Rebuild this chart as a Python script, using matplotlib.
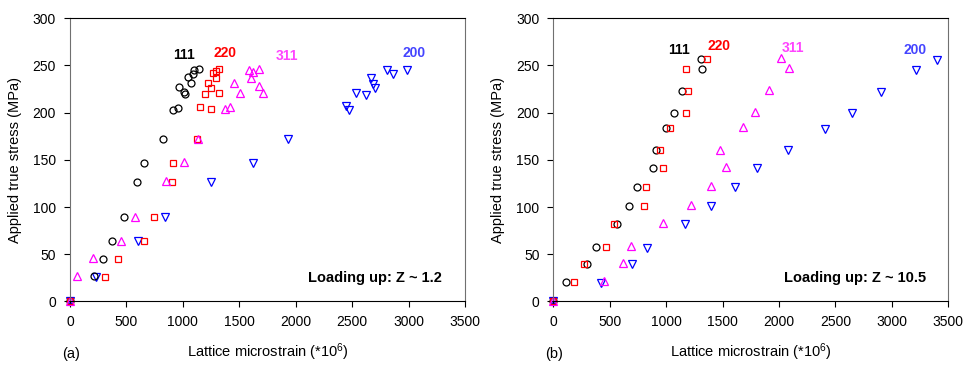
import matplotlib
matplotlib.use("Agg")
import matplotlib.pyplot as plt

plt.rcParams['font.family'] = ['Liberation Sans', 'DejaVu Sans']
plt.rcParams['mathtext.default'] = 'regular'

# (a) Z ~ 1.2 : lattice microstrain, applied stress
a111_x = [0, 216, 292, 369, 481, 594, 659, 821, 915, 954, 968, 1007, 1019, 1048, 1069, 1092, 1101, 1146]
a111_y = [0, 26.5, 45.5, 64, 89, 127, 147, 172, 203, 205, 227, 222, 220, 238, 231, 241, 245, 246]
a220_x = [0, 313, 428, 659, 741, 904, 910, 1122, 1155, 1247, 1199, 1323, 1249, 1226, 1291, 1264, 1294, 1320]
a220_y = [0, 26, 45.5, 64, 89, 127, 147, 172, 206, 204, 220, 221, 226, 231, 237, 242, 244, 246]
a311_x = [0, 65, 204, 449, 573, 848, 1010, 1131, 1373, 1422, 1452, 1510, 1583, 1623, 1604, 1676, 1677, 1707]
a311_y = [0, 27, 46, 64, 90, 128, 148, 172, 204, 206, 231, 221, 245, 243, 237, 246, 228, 221]
a200_x = [0, 230, 600, 842, 1249, 1618, 1928, 2445, 2475, 2537, 2620, 2670, 2688, 2700, 2809, 2865, 2983]
a200_y = [0, 26, 64, 89, 127, 147, 172, 207, 203, 221, 219, 237, 230, 226, 245, 241, 245]

# (b) Z ~ 10.5
b111_x = [0, 112, 296, 376, 562, 672, 743, 879, 908, 997, 1065, 1136, 1317, 1305]
b111_y = [0, 20.5, 40, 58, 82, 101, 121, 141, 160, 184, 200, 223, 246, 257]
b220_x = [0, 180, 275, 470, 536, 805, 825, 976, 941, 1033, 1175, 1192, 1178, 1361]
b220_y = [0, 20.5, 40, 58, 82, 101, 121, 141, 160, 184, 200, 223, 246, 257]
b311_x = [0, 453, 615, 686, 973, 1219, 1399, 1532, 1476, 1683, 1784, 1908, 2086, 2015]
b311_y = [0, 21.5, 41, 58.5, 83, 102, 122, 142, 160.5, 184.5, 201, 224, 247, 258]
b200_x = [0, 420, 695, 834, 1163, 1393, 1612, 1808, 2077, 2408, 2648, 2902, 3210, 3396]
b200_y = [0, 20, 40, 57, 82, 101, 121, 141, 160, 182.5, 199.5, 222, 245, 256]

xticks = [0, 500, 1000, 1500, 2000, 2500, 3000, 3500]
yticks = [0, 50, 100, 150, 200, 250, 300]

fig = plt.figure(figsize=(9.65, 3.65), dpi=100)
ax1 = fig.add_axes([0.0725, 0.174, 0.4093, 0.776])
ax2 = fig.add_axes([0.5734, 0.174, 0.4093, 0.776])


def panel(ax, d200, d111, d220, d311, labels, note, letter):
    ms = 5
    ax.plot(d200[0], d200[1], 'v', ms=ms + 0.5, mfc='none', mec='#0000ff', mew=0.9, clip_on=False)
    ax.plot(d111[0], d111[1], 'o', ms=ms, mfc='none', mec='black', mew=0.9, clip_on=False)
    ax.plot(d220[0], d220[1], 's', ms=ms, mfc='none', mec='#ff0000', mew=0.9, clip_on=False)
    ax.plot(d311[0], d311[1], '^', ms=ms + 0.5, mfc='none', mec='#ff00ff', mew=0.9, clip_on=False)
    for txt, x, y, c in labels:
        ax.text(x, y, txt, color=c, fontsize=10, fontweight='bold', ha='center', va='center')
    ax.text(3300, 25, note, fontsize=10.5, fontweight='bold', ha='right', va='center')
    ax.set_xlim(0, 3500)
    ax.set_ylim(0, 300)
    ax.set_xticks(xticks)
    ax.set_yticks(yticks)
    ax.tick_params(direction='out', length=4, width=0.8, labelsize=10, pad=6)
    for s in ['left', 'right']:
        ax.spines[s].set_color('#707070')
    for s in ['top', 'bottom']:
        ax.spines[s].set_color('black')
    ax.set_xlabel('Lattice microstrain (*10$^6$)', fontsize=10.5, labelpad=9)
    ax.set_ylabel('Applied true stress (MPa)', fontsize=10.5, labelpad=8)
    ax.text(-0.02, -0.16, letter, transform=ax.transAxes, fontsize=10.5, ha='left', va='top')


panel(ax1, (a200_x, a200_y), (a111_x, a111_y), (a220_x, a220_y), (a311_x, a311_y),
      [('111', 1013, 261, 'black'), ('220', 1371, 263.5, '#ff0000'),
       ('311', 1926, 260, '#ff44ff'), ('200', 3051, 263, '#4444ff')],
      'Loading up: Z ~ 1.2', '(a)')
panel(ax2, (b200_x, b200_y), (b111_x, b111_y), (b220_x, b220_y), (b311_x, b311_y),
      [('111', 1118, 266.5, 'black'), ('220', 1471, 271, '#ff0000'),
       ('311', 2121, 268, '#ff44ff'), ('200', 3204, 266.5, '#4444ff')],
      'Loading up: Z ~ 10.5', '(b)')

fig.savefig('out.png', dpi=100)
